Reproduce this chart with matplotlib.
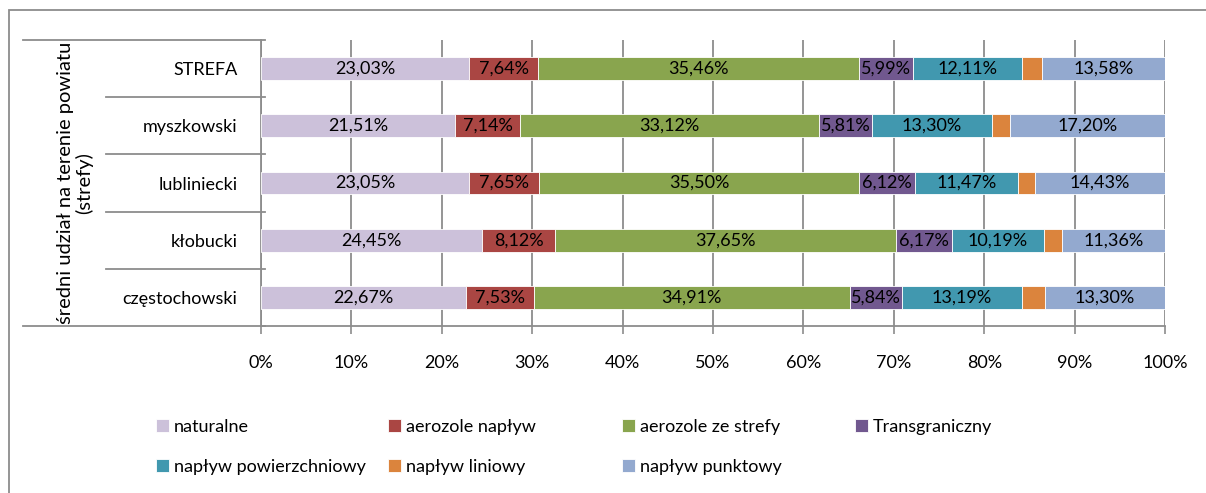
import matplotlib
matplotlib.use("Agg")
import matplotlib.pyplot as plt
import matplotlib.transforms as mtransforms
from matplotlib.patches import Rectangle
import numpy as np

plt.rcParams["font.family"] = ["Lato", "DejaVu Sans"]

# Data (shares in %), categories listed bottom -> top
categories = ["częstochowski", "kłobucki", "lubliniecki", "myszkowski", "STREFA"]
series_names = ["naturalne", "aerozole napływ", "aerozole ze strefy", "Transgraniczny",
                "napływ powierzchniowy", "napływ liniowy", "napływ punktowy"]
naturalne = [22.67, 24.45, 23.05, 21.51, 23.03]
aerozole_naplyw = [7.53, 8.12, 7.65, 7.14, 7.64]
aerozole_ze_strefy = [34.91, 37.65, 35.50, 33.12, 35.46]
transgraniczny = [5.84, 6.17, 6.12, 5.81, 5.99]
naplyw_powierzchniowy = [13.19, 10.19, 11.47, 13.30, 12.11]
naplyw_liniowy = [2.56, 2.06, 1.78, 1.92, 2.19]
naplyw_punktowy = [13.30, 11.36, 14.43, 17.20, 13.58]
x_ticks = [0, 10, 20, 30, 40, 50, 60, 70, 80, 90, 100]

series = [naturalne, aerozole_naplyw, aerozole_ze_strefy, transgraniczny,
          naplyw_powierzchniowy, naplyw_liniowy, naplyw_punktowy]
colors = ["#CCC1DA", "#AA4643", "#89A54E", "#71588F", "#4198AF", "#DB843D", "#93A9CF"]
show_labels = [True, True, True, True, True, False, True]

GRID = "#8c8c8c"
FS = 13

fig = plt.figure(figsize=(12.06, 4.93), dpi=100)
ax = fig.add_axes([261 / 1206, 1 - 326 / 493, 904 / 1206, 286 / 493])

y = np.arange(len(categories))
left = np.zeros(len(categories))
handles = []
for name, vals, col, lab in zip(series_names, series, colors, show_labels):
    bars = ax.barh(y, vals, left=left, height=0.4, color=col, edgecolor="white",
                   linewidth=0.6, label=name, zorder=3)
    if lab:
        txt = [f"{v:.2f}%".replace(".", ",") for v in vals]
        ax.bar_label(bars, labels=txt, label_type="center", fontsize=FS, color="black")
    handles.append(bars)
    left += np.array(vals)

ax.set_xlim(0, 100)
ax.set_ylim(-0.5, len(categories) - 0.5)
ax.set_xticks(x_ticks)
ax.set_xticklabels([f"{t}%" for t in x_ticks], fontsize=FS)
ax.set_yticks(y)
ax.set_yticklabels(categories, fontsize=FS)
ax.tick_params(axis="y", length=0, pad=17)
ax.tick_params(axis="x", length=6, width=1.2, color=GRID, pad=15)
ax.xaxis.grid(True, color=GRID, linewidth=1.3, zorder=0)
ax.set_axisbelow(True)

for side in ["top", "right"]:
    ax.spines[side].set_visible(False)
for side in ["left", "bottom"]:
    ax.spines[side].set_color(GRID)
    ax.spines[side].set_linewidth(1.3)

# category table lines on the left
trans = mtransforms.blended_transform_factory(ax.transAxes, ax.transData)
bounds = np.arange(-0.5, len(categories), 1.0)
for b in bounds:
    x0 = -0.2633 if b in (bounds[0], bounds[-1]) else -0.1715
    ax.plot([x0, 0.004], [b, b], transform=trans, color=GRID, lw=1.3, clip_on=False)

fig.text(75 / 1206, 1 - 183 / 493, "średni udział na terenie powiatu\n(strefy)",
         rotation=90, ha="center", va="center", fontsize=14.5, multialignment="center",
         linespacing=1.05)

# legend, placed item by item in a 4-column grid
col_x = [156, 388, 622, 855]
row_y = [427, 467]
for i, (h, name) in enumerate(zip(handles, series_names)):
    r, c = divmod(i, 4)
    fig.legend([h], [name], loc="center left", frameon=False, fontsize=FS,
               bbox_to_anchor=(col_x[c] / 1206, 1 - row_y[r] / 493),
               handlelength=0.7, handleheight=0.7, handletextpad=0.3,
               borderpad=0, borderaxespad=0)

fig.add_artist(Rectangle((9 / 1206, -0.05), 1.1, 1 - 10 / 493 + 0.05, transform=fig.transFigure,
                         fill=False, edgecolor=GRID, linewidth=1.3))

fig.savefig("out.png", dpi=100)
